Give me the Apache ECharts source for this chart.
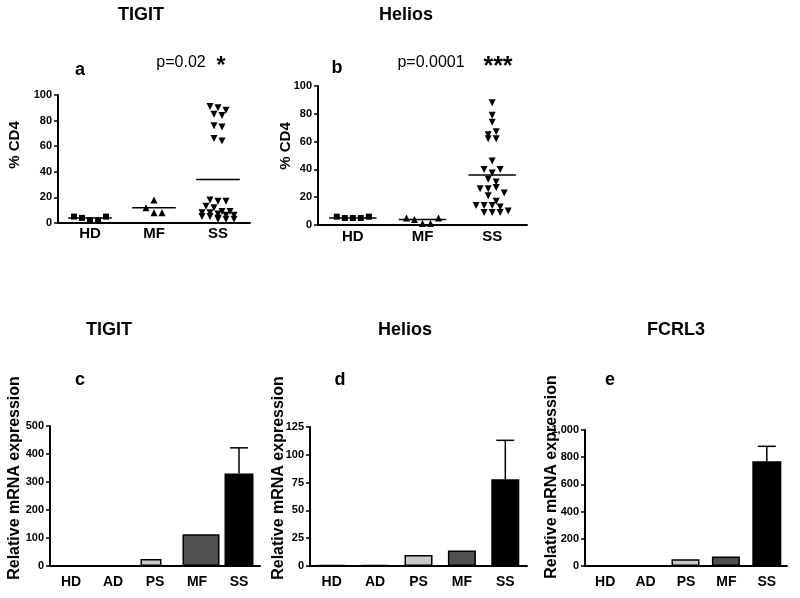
<!DOCTYPE html>
<html><head><meta charset="utf-8">
<script src="https://cdn.jsdelivr.net/npm/echarts@6/dist/echarts.min.js"></script>
<style>html,body{margin:0;padding:0;background:#fff}#c{width:800px;height:598px}</style>
</head><body><div id="c"></div>
<script>
// ---- data ----
const scatterCats = ['HD', 'MF', 'SS'];
const tigitHD = [5, 4, 2, 2, 5];
const tigitMF = [12, 18, 8, 8];
const tigitSS = [91, 90, 88, 85, 84, 76, 75, 66, 64, 18, 17, 17, 13, 12, 9, 9, 8, 8, 7, 6, 6, 5, 5, 4, 3, 3, 3];
const tigitMeans = [4, 12, 34];
const heliosHD = [6, 5, 5, 5, 6];
const heliosMF = [5, 4, 1, 1, 5];
const heliosSS = [88, 79, 74, 65, 62, 62, 67, 46, 40, 37.5, 40, 33, 31, 26, 26, 27, 21, 23, 17, 14, 14, 14, 13, 9, 9, 9, 10];
const heliosMeans = [5, 4, 36];

const barCats = ['HD', 'AD', 'PS', 'MF', 'SS'];
const tigitMRNA = [1, 1, 25, 113, 330];
const tigitErr = [0, 0, 0, 0, 92];
const heliosMRNA = [1, 1, 10, 14, 78];
const heliosErr = [0, 0, 0, 0, 35];
const fcrl3MRNA = [2, 2, 50, 70, 770];
const fcrl3Err = [0, 0, 0, 0, 110];

// ---- helpers ----
const FONT = "'Liberation Sans', Arial, Helvetica, sans-serif";
const barColors = ['#ffffff', '#ffffff', '#c8c8c8', '#505050', '#000000'];

function swarm(vals, thr, maxRow, step, center) {
  const idx = vals.map((v, i) => i).sort((a, b) => vals[b] - vals[a]);
  const bins = []; let cur = null;
  idx.forEach(i => {
    if (cur && cur.length < maxRow && vals[cur[0]] - vals[i] < thr) cur.push(i);
    else { cur = [i]; bins.push(cur); }
  });
  const out = [];
  bins.forEach(b => {
    b.sort((x, y) => x - y);
    b.forEach((i, k) => out.push([center + (k - (b.length - 1) / 2) * step, vals[i]]));
  });
  return out;
}

function meanSeries(means, xIdx, yIdx) {
  return {
    type: 'custom', xAxisIndex: xIdx, yAxisIndex: yIdx, silent: true, z: 5,
    data: means.map((m, i) => [i + 1, m]),
    renderItem: (params, api) => {
      const x = api.value(0), m = api.value(1);
      const p1 = api.coord([x - 0.34, m]), p2 = api.coord([x + 0.34, m]);
      return { type: 'line', shape: { x1: p1[0], y1: p1[1], x2: p2[0], y2: p2[1] }, style: { stroke: '#000', lineWidth: 1.5 } };
    }
  };
}

function errSeries(vals, errs, xIdx, yIdx) {
  return {
    type: 'custom', xAxisIndex: xIdx, yAxisIndex: yIdx, silent: true, z: 4,
    data: vals.map((v, i) => [i, v, errs[i]]),
    renderItem: (params, api) => {
      const e = api.value(2);
      if (!e) return null;
      const i = api.value(0), v = api.value(1);
      const b = api.coord([i, v]), t = api.coord([i, v + e]);
      return { type: 'group', children: [
        { type: 'line', shape: { x1: b[0], y1: b[1], x2: t[0], y2: t[1] }, style: { stroke: '#000', lineWidth: 1.5 } },
        { type: 'line', shape: { x1: t[0] - 9, y1: t[1], x2: t[0] + 9, y2: t[1] }, style: { stroke: '#000', lineWidth: 1.5 } }
      ] };
    }
  };
}

const axisLine = { show: true, lineStyle: { color: '#000', width: 2 } };
function catAxis(grid, data, fs, margin) {
  return { type: 'category', gridIndex: grid, data: data, boundaryGap: true,
    axisLine: axisLine, axisTick: { show: false }, splitLine: { show: false },
    axisLabel: { color: '#000', fontWeight: 'bold', fontSize: fs, fontFamily: FONT, margin: margin, interval: 0 } };
}
function hiddenX(grid) {
  return { type: 'value', gridIndex: grid, min: 0.5, max: 3.5, show: false, splitLine: { show: false } };
}
function valAxis(grid, max, interval) {
  return { type: 'value', gridIndex: grid, min: 0, max: max, interval: interval,
    axisLine: axisLine, axisTick: { show: true, inside: false, length: 4, lineStyle: { color: '#000', width: 1.5 } },
    splitLine: { show: false },
    axisLabel: { color: '#000', fontWeight: 'bold', fontSize: 11, fontFamily: FONT, margin: 6 } };
}
// one series per bar so each bar may get its own width (as in the reference)
function barSeries(vals, xIdx, yIdx, widths) {
  return vals.map((v, i) => ({
    type: 'bar', xAxisIndex: xIdx, yAxisIndex: yIdx, barWidth: widths[i], barGap: '-100%', silent: true,
    data: vals.map((w, j) => j === i ? w : null),
    itemStyle: { color: barColors[i], borderColor: '#000', borderWidth: 1.5 }
  }));
}
function scat(data, symbol, size, rot, xIdx, yIdx) {
  return { type: 'scatter', xAxisIndex: xIdx, yAxisIndex: yIdx, symbol: symbol, symbolSize: size,
    symbolRotate: rot, silent: true, itemStyle: { color: '#000', opacity: 1 }, data: data, z: 3 };
}
function txt(x, y, s, size, weight, extra) {
  return Object.assign({ type: 'text', x: x, y: y, silent: true,
    style: { text: s, fill: '#000', font: (weight || 'normal') + ' ' + size + 'px ' + FONT, textAlign: 'center', textVerticalAlign: 'middle' } }, extra || {});
}

const stepA = 0.125, stepB = 0.115;
const option = {
  animation: false,
  backgroundColor: '#fff',
  grid: [
    { left: 58, top: 95, width: 192, height: 128, outerBoundsMode: 'none' },
    { left: 318, top: 86, width: 209, height: 139, outerBoundsMode: 'none' },
    { left: 50, top: 426, width: 210, height: 140, outerBoundsMode: 'none' },
    { left: 310, top: 427, width: 217, height: 139, outerBoundsMode: 'none' },
    { left: 585, top: 430, width: 202, height: 136, outerBoundsMode: 'none' }
  ],
  xAxis: [
    catAxis(0, scatterCats, 15, 3), hiddenX(0),
    catAxis(1, scatterCats, 15, 4), hiddenX(1),
    catAxis(2, barCats, 14, 9), catAxis(3, barCats, 14, 9), catAxis(4, barCats, 14, 9)
  ],
  yAxis: [
    valAxis(0, 100, 20), valAxis(1, 100, 20),
    valAxis(2, 500, 100), valAxis(3, 125, 25), valAxis(4, 1000, 200)
  ],
  series: [
    scat(swarm(tigitHD, 5, 5, stepA, 1), 'rect', 6, 0, 1, 0),
    scat(swarm(tigitMF, 5, 5, stepA, 2), 'triangle', 7, 0, 1, 0),
    scat(swarm(tigitSS, 5, 5, stepA, 3), 'triangle', 7, 180, 1, 0),
    meanSeries(tigitMeans, 1, 0),
    scat(swarm(heliosHD, 5, 5, stepB, 1), 'rect', 6, 0, 3, 1),
    scat(swarm(heliosMF, 5, 5, stepB, 2), 'triangle', 7, 0, 3, 1),
    scat(swarm(heliosSS, 5, 5, stepB, 3), 'triangle', 7, 180, 3, 1),
    meanSeries(heliosMeans, 3, 1)
  ].concat(
    barSeries(tigitMRNA, 4, 2, [28, 28, 21, 37, 29]), [errSeries(tigitMRNA, tigitErr, 4, 2)],
    barSeries(heliosMRNA, 5, 3, [28, 28, 28, 28, 28]), [errSeries(heliosMRNA, heliosErr, 5, 3)],
    barSeries(fcrl3MRNA, 6, 4, [28, 28, 28, 28, 29]), [errSeries(fcrl3MRNA, fcrl3Err, 6, 4)]
  ),
  graphic: [
    txt(141, 15, 'TIGIT', 18, 'bold'),
    txt(406, 15, 'Helios', 18, 'bold'),
    txt(80, 70, 'a', 18, 'bold'),
    txt(181, 63, 'p=0.02', 16, 'normal'),
    txt(221, 67, '*', 23, 'bold'),
    txt(337, 68, 'b', 18, 'bold'),
    txt(431, 63, 'p=0.0001', 16, 'normal'),
    txt(498, 67, '***', 25, 'bold'),
    txt(15, 145, '% CD4', 15, 'bold', { rotation: Math.PI / 2 }),
    txt(286, 146, '% CD4', 15, 'bold', { rotation: Math.PI / 2 }),
    txt(109, 330, 'TIGIT', 18, 'bold'),
    txt(405, 330, 'Helios', 18, 'bold'),
    txt(676, 330, 'FCRL3', 18, 'bold'),
    txt(80, 380, 'c', 18, 'bold'),
    txt(340, 380, 'd', 18, 'bold'),
    txt(610, 380, 'e', 18, 'bold'),
    txt(15, 478, 'Relative mRNA expression', 16, 'bold', { rotation: Math.PI / 2 }),
    txt(279, 478, 'Relative mRNA expression', 16, 'bold', { rotation: Math.PI / 2 }),
    txt(552, 477, 'Relative mRNA expression', 16, 'bold', { rotation: Math.PI / 2 })
  ]
};
const chart = echarts.init(document.getElementById('c'), null, { renderer: 'canvas' });
chart.setOption(option);
</script>
</body></html>
